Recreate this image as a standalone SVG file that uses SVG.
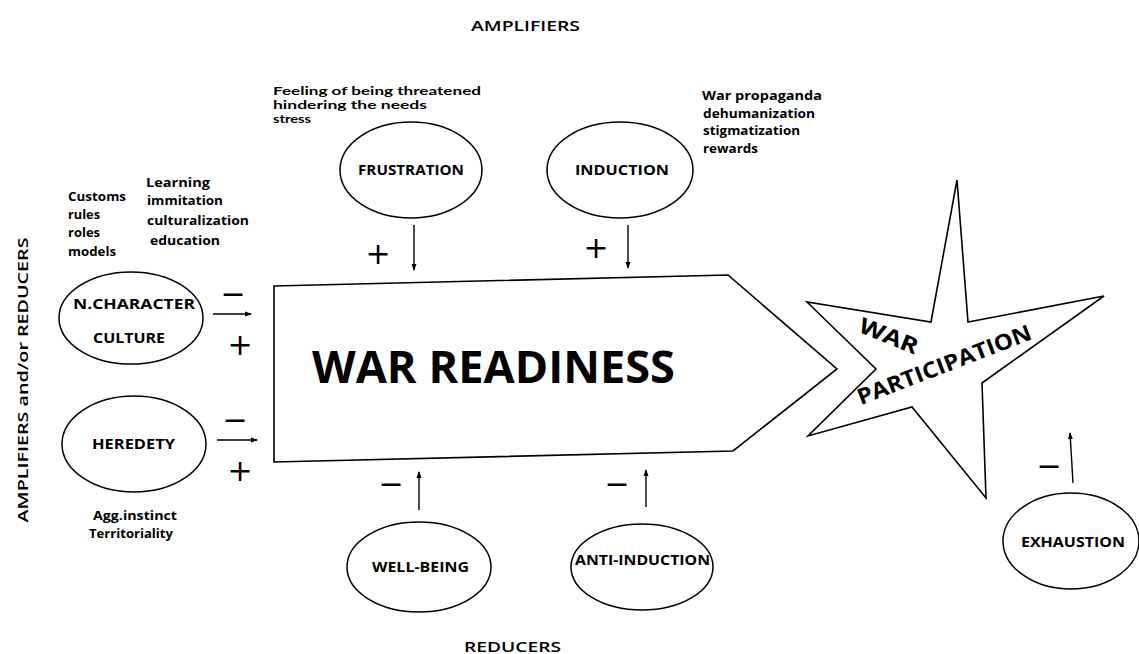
<svg xmlns="http://www.w3.org/2000/svg" width="1139" height="654" viewBox="0 0 1139 654">
<defs>
<marker id="ah" markerWidth="7" markerHeight="6" refX="6" refY="3" orient="auto" markerUnits="userSpaceOnUse">
<path d="M0,0.5 L7,3 L0,5.5 z" fill="#000"/>
</marker>
<style>
.sh{fill:#fff;stroke:#000;stroke-width:1.6}
.el{fill:#fff;stroke:#000;stroke-width:1.5}
.lb{font-family:"Open Sans","Liberation Sans",sans-serif;font-weight:700;font-size:14px;fill:#000}
.an{font-family:"Open Sans","Liberation Sans",sans-serif;font-weight:700;font-size:12px;fill:#000}
.an2{font-family:Lato,"Liberation Sans",sans-serif;font-weight:700;font-size:11px;fill:#000}
.hd{font-family:"Open Sans","Liberation Sans",sans-serif;font-weight:600;font-size:15px;fill:#000}
.big{font-family:"Open Sans","Liberation Sans",sans-serif;font-weight:700;font-size:45px;fill:#000}
.st{font-family:"Open Sans","Liberation Sans",sans-serif;font-weight:700;font-size:22px;fill:#000}
.sg{font-family:"DejaVu Sans",sans-serif;font-size:30px;fill:#000;text-anchor:middle;dominant-baseline:central}
.cn{stroke:#000;stroke-width:1.4;fill:none;marker-end:url(#ah)}
</style>
</defs>
<rect width="1139" height="654" fill="#fff"/>

<text class="hd" x="471" y="31" textLength="109" lengthAdjust="spacingAndGlyphs">AMPLIFIERS</text>
<text class="hd" x="464" y="652" textLength="97" lengthAdjust="spacingAndGlyphs">REDUCERS</text>
<text class="hd" transform="translate(28,380) rotate(-90)" text-anchor="middle" font-size="17" textLength="285" lengthAdjust="spacingAndGlyphs">AMPLIFIERS and/or REDUCERS</text>

<g id="war-readiness">
<polygon class="sh" points="274,286 728,275 837,369 733,451 274,462"/>
<text class="big" x="312" y="383" textLength="363" lengthAdjust="spacingAndGlyphs">WAR READINESS</text>
</g>

<g id="war-participation">
<polygon class="sh" points="957,180 968,322 1104,296 982,383 986,498 912,407 808,436 876,369 807,302 931,322"/>
<text class="st" transform="translate(886,343) rotate(22)" text-anchor="middle" textLength="62" lengthAdjust="spacingAndGlyphs">WAR</text>
<text class="st" transform="translate(947,372) rotate(-21)" text-anchor="middle" textLength="185" lengthAdjust="spacingAndGlyphs">PARTICIPATION</text>
</g>

<g id="n-character">
<ellipse class="el" cx="131" cy="318" rx="72" ry="46"/>
<text class="lb" x="73" y="309" textLength="122" lengthAdjust="spacingAndGlyphs">N.CHARACTER</text>
<text class="lb" x="93" y="343" textLength="72" lengthAdjust="spacingAndGlyphs">CULTURE</text>
</g>

<g id="heredety">
<ellipse class="el" cx="134" cy="444" rx="72" ry="48"/>
<text class="lb" x="92" y="449" textLength="83" lengthAdjust="spacingAndGlyphs">HEREDETY</text>
</g>

<g id="frustration">
<ellipse class="el" cx="411" cy="170" rx="71" ry="48"/>
<text class="lb" x="358" y="175" textLength="106" lengthAdjust="spacingAndGlyphs">FRUSTRATION</text>
</g>

<g id="induction">
<ellipse class="el" cx="620" cy="170" rx="73" ry="48"/>
<text class="lb" x="575" y="175" textLength="94" lengthAdjust="spacingAndGlyphs">INDUCTION</text>
</g>

<g id="well-being">
<ellipse class="el" cx="419" cy="567" rx="72" ry="45"/>
<text class="lb" x="372" y="572" textLength="97" lengthAdjust="spacingAndGlyphs">WELL-BEING</text>
</g>

<g id="anti-induction">
<ellipse class="el" cx="642" cy="567" rx="71" ry="43"/>
<text class="lb" x="575" y="565" textLength="135" lengthAdjust="spacingAndGlyphs">ANTI-INDUCTION</text>
</g>

<g id="exhaustion">
<ellipse class="el" cx="1071" cy="541" rx="68" ry="48"/>
<text class="lb" x="1021" y="547" textLength="104" lengthAdjust="spacingAndGlyphs">EXHAUSTION</text>
</g>

<g id="annotations">
<text class="an" x="68" y="201" textLength="58" lengthAdjust="spacingAndGlyphs">Customs</text>
<text class="an" x="68" y="219" textLength="32" lengthAdjust="spacingAndGlyphs">rules</text>
<text class="an" x="68" y="237" textLength="32" lengthAdjust="spacingAndGlyphs">roles</text>
<text class="an" x="68" y="256" textLength="48" lengthAdjust="spacingAndGlyphs">models</text>
<text class="an" x="146" y="187" textLength="64" lengthAdjust="spacingAndGlyphs">Learning</text>
<text class="an" x="147" y="205" textLength="76" lengthAdjust="spacingAndGlyphs">immitation</text>
<text class="an" x="147" y="225" textLength="102" lengthAdjust="spacingAndGlyphs">culturalization</text>
<text class="an" x="150" y="245" textLength="70" lengthAdjust="spacingAndGlyphs">education</text>
<text class="an2" x="273" y="95" textLength="208" lengthAdjust="spacingAndGlyphs">Feeling of being threatened</text>
<text class="an2" x="273" y="109" textLength="154" lengthAdjust="spacingAndGlyphs">hindering the needs</text>
<text class="an2" x="273" y="123" textLength="38" lengthAdjust="spacingAndGlyphs">stress</text>
<text class="an" x="702" y="100" textLength="120" lengthAdjust="spacingAndGlyphs">War propaganda</text>
<text class="an" x="703" y="118" textLength="112" lengthAdjust="spacingAndGlyphs">dehumanization</text>
<text class="an" x="703" y="135" textLength="97" lengthAdjust="spacingAndGlyphs">stigmatization</text>
<text class="an" x="703" y="153" textLength="55" lengthAdjust="spacingAndGlyphs">rewards</text>
<text class="an" x="93" y="520" textLength="84" lengthAdjust="spacingAndGlyphs">Agg.instinct</text>
<text class="an" x="89" y="538" textLength="84" lengthAdjust="spacingAndGlyphs">Territoriality</text>
</g>

<g id="connectors">
<line class="cn" x1="213" y1="314" x2="251" y2="314"/>
<line class="cn" x1="217" y1="440" x2="257" y2="440"/>
<line class="cn" x1="414" y1="225" x2="414" y2="270"/>
<line class="cn" x1="628" y1="225" x2="628" y2="268"/>
<line class="cn" x1="419" y1="510" x2="419" y2="472"/>
<line class="cn" x1="646" y1="507" x2="646" y2="470"/>
<line class="cn" x1="1073" y1="483" x2="1070" y2="433"/>
<text class="sg" x="233" y="293" font-size="24">−</text>
<text class="sg" x="240" y="344">+</text>
<text class="sg" x="235" y="419" font-size="24">−</text>
<text class="sg" x="240" y="470">+</text>
<text class="sg" x="378" y="253">+</text>
<text class="sg" x="596" y="247">+</text>
<text class="sg" x="391" y="483" font-size="24">−</text>
<text class="sg" x="617" y="483" font-size="24">−</text>
<text class="sg" x="1049" y="465" font-size="24">−</text>
</g>
</svg>
